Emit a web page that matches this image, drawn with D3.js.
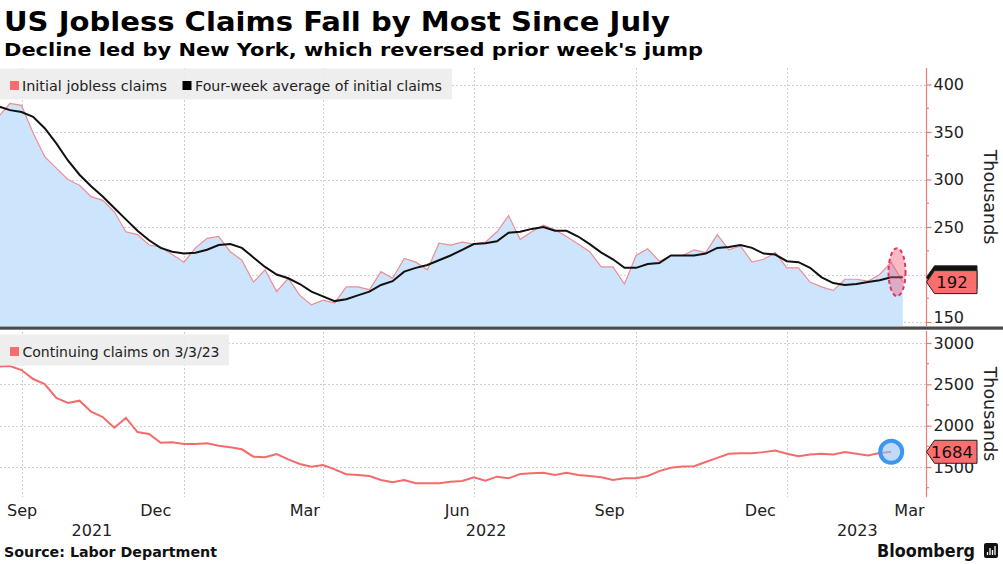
<!DOCTYPE html>
<html><head><meta charset="utf-8">
<script src="https://cdn.jsdelivr.net/npm/d3@7"></script>
<style>
body{margin:0;background:#fff;}
svg{display:block;}
text{font-family:"DejaVu Sans",sans-serif;}
</style>
</head><body>
<script>
// ---------- DATA ----------
const firstWeek = "2021-09-11"; // week ending, weekly data
const initialClaims = [366,380,378,349,324,312,300,294,282,278,
  266,245,242,231,229,221,213,228,238,240,
  224,215,192,205,182,196,178,168,173,170,
  187,187,184,203,196,217,213,205,233,231,
  234,232,234,245,262,237,245,252,247,240,
  232,224,208,208,190,220,227,214,220,220,
  226,223,242,226,230,213,216,223,207,207,
  192,187,183,195,195,193,200,213,192];
const fourWeekAvg = [377,373,371,366,354,338,320,305,293,282,
  270,258,246,236,228,224,222,223,226,231,
  232,228,218,208,200,196,190,182,177,172,
  174,178,182,189,193,203,207,210,215,220,
  226,232,233,235,244,245,248,250,246,246,
  240,232,223,216,207,207,211,212,220,220,
  220,222,228,229,231,228,222,221,214,213,
  207,197,191,189,190,192,194,197,197];
const continuingClaims = [2713,2722,2673,2564,2504,2335,2274,2302,2169,2105,
  1975,2093,1923,1899,1794,1799,1778,1778,1787,1758,
  1738,1714,1625,1617,1657,1593,1536,1504,1524,1472,
  1412,1403,1391,1343,1315,1343,1303,1303,1303,1322,
  1330,1375,1334,1383,1363,1415,1424,1431,1403,1431,
  1403,1391,1375,1343,1363,1363,1391,1450,1490,1505,
  1510,1560,1610,1660,1665,1665,1680,1700,1660,1630,
  1650,1660,1650,1680,1660,1640,1670,1684];
const topTicks = [150,200,250,300,350,400];
const bottomTicks = [1500,2000,2500,3000];
const monthLabelDates = ["2021-09-15","2021-12-15","2022-03-15","2022-06-15","2022-09-15","2022-12-15","2023-03-15"];
const monthLabels = ["Sep","Dec","Mar","Jun","Sep","Dec","Mar"];
const yearLabels = ["2021","2022","2023"];
const xDomain = ["2021-09-12","2023-03-25"];

// ---------- LAYOUT ----------
const W = 1003, H = 564;
const plotL = 0, plotR = 926;
const top1 = 68, bot1 = 326;
const top2 = 332, bot2 = 497;
const parse = d3.timeParse("%Y-%m-%d");
const start = parse(firstWeek);
const weeks = initialClaims.map((_, i) => d3.timeDay.offset(start, 7 * i));

const x = d3.scaleTime().domain(xDomain.map(parse)).range([plotL, plotR]);
const yTop = d3.scaleLinear().domain([150, 400]).range([322, 84.5]);
const yBot = d3.scaleLinear().domain([1500, 3000]).range([467, 343]);

const svg = d3.select("body").append("svg").attr("width", W).attr("height", H);
svg.append("rect").attr("width", W).attr("height", H).attr("fill", "#fff");

function fit(sel, w) { sel.attr("textLength", w).attr("lengthAdjust", "spacingAndGlyphs"); return sel; }

// titles
fit(svg.append("text").attr("x", 4).attr("y", 31).attr("font-size", 26).attr("font-weight", "bold")
  .attr("fill", "#000").text("US Jobless Claims Fall by Most Since July"), 666);
fit(svg.append("text").attr("x", 4).attr("y", 56).attr("font-size", 18).attr("font-weight", "bold")
  .attr("fill", "#000").text("Decline led by New York, which reversed prior week's jump"), 699);

const defs = svg.append("defs");
defs.append("clipPath").attr("id", "c1").append("rect").attr("x", plotL).attr("y", top1).attr("width", plotR - plotL).attr("height", bot1 - top1);
defs.append("clipPath").attr("id", "c2").append("rect").attr("x", plotL).attr("y", top2).attr("width", plotR - plotL).attr("height", bot2 - top2);

// vertical gridlines (quarter boundaries snapped to the weekly observation)
const qb = d3.timeMonth.every(3).range(x.domain()[0], x.domain()[1]).map(d => d3.timeSaturday.floor(d));
const gridStyle = g => g.attr("stroke", "#cfcfcf").attr("stroke-width", 1).attr("stroke-dasharray", "2,2");
[[top1, bot1], [top2, bot2]].forEach(([t, b]) => {
  svg.append("g").selectAll("line").data(qb).join("line")
    .attr("x1", d => Math.round(x(d)) + 0.5).attr("x2", d => Math.round(x(d)) + 0.5)
    .attr("y1", t).attr("y2", b).call(gridStyle);
});
// horizontal gridlines
svg.append("g").selectAll("line").data(topTicks).join("line")
  .attr("x1", plotL).attr("x2", plotR).attr("y1", d => Math.round(yTop(d)) + 0.5).attr("y2", d => Math.round(yTop(d)) + 0.5).call(gridStyle);
svg.append("g").selectAll("line").data(bottomTicks).join("line")
  .attr("x1", plotL).attr("x2", plotR).attr("y1", d => Math.round(yBot(d)) + 0.5).attr("y2", d => Math.round(yBot(d)) + 0.5).call(gridStyle);

// ---------- TOP PANEL ----------
const gTop = svg.append("g").attr("clip-path", "url(#c1)");
gTop.append("path").datum(initialClaims)
  .attr("d", d3.area().x((d, i) => x(weeks[i])).y0(bot1).y1(d => yTop(d)))
  .attr("fill", "#cce4fc");
gTop.append("path").datum(initialClaims)
  .attr("d", d3.line().x((d, i) => x(weeks[i])).y(d => yTop(d)))
  .attr("fill", "none").attr("stroke", "#ef8d95").attr("stroke-width", 1.2);
gTop.append("path").datum(fourWeekAvg)
  .attr("d", d3.line().x((d, i) => x(weeks[i])).y(d => yTop(d)))
  .attr("fill", "none").attr("stroke", "#111").attr("stroke-width", 2);

// highlight ellipse around last two weeks
const nI = initialClaims.length;
const ex = (x(weeks[nI - 1]) + x(weeks[nI - 2])) / 2;
const ey = (yTop(initialClaims[nI - 1]) + yTop(initialClaims[nI - 2])) / 2;
svg.append("ellipse").attr("cx", ex).attr("cy", ey).attr("rx", 8.5).attr("ry", 24)
  .attr("fill", "rgba(240,90,120,0.42)").attr("stroke", "#e5345f").attr("stroke-width", 2).attr("stroke-dasharray", "4,3");

// ---------- BOTTOM PANEL ----------
const gBot = svg.append("g").attr("clip-path", "url(#c2)");
gBot.append("path").datum(continuingClaims)
  .attr("d", d3.line().x((d, i) => x(weeks[i])).y(d => yBot(d)))
  .attr("fill", "none").attr("stroke", "#f46b6b").attr("stroke-width", 2);
const nC = continuingClaims.length;
svg.append("circle").attr("cx", x(weeks[nC - 1])).attr("cy", yBot(continuingClaims[nC - 1])).attr("r", 11)
  .attr("fill", "rgba(150,195,245,0.6)").attr("stroke", "#3b98ee").attr("stroke-width", 4);

// legends
function legend(yBox, w, items) {
  svg.append("rect").attr("x", 0).attr("y", yBox).attr("width", w).attr("height", 31).attr("fill", "rgba(236,236,236,0.9)");
  items.forEach(it => {
    svg.append("rect").attr("x", it.sx).attr("y", yBox + 12.5).attr("width", 9).attr("height", 9).attr("fill", it.color);
    fit(svg.append("text").attr("x", it.tx).attr("y", yBox + 22.5).attr("font-size", 14.5).attr("fill", "#222").text(it.label), it.w);
  });
}
legend(68.5, 452, [
  {sx: 10, tx: 22, w: 145, color: "#f76d6d", label: "Initial jobless claims"},
  {sx: 182.5, tx: 195, w: 247, color: "#000", label: "Four-week average of initial claims"}
]);
legend(334.5, 229, [
  {sx: 10, tx: 22.5, w: 197, color: "#f76d6d", label: "Continuing claims on 3/3/23"}
]);

// separator
svg.append("rect").attr("x", 0).attr("y", 326.5).attr("width", W).attr("height", 3.2).attr("fill", "#4a4a4a");

// ---------- RIGHT AXES ----------
const axisColor = "#f07a7a";
function rightAxis(scale, ticks, t, b, tagYs) {
  svg.append("line").attr("x1", plotR + 0.5).attr("x2", plotR + 0.5).attr("y1", t).attr("y2", b)
    .attr("stroke", axisColor).attr("stroke-width", 1.2);
  const g = svg.append("g").attr("transform", `translate(${plotR + 0.5},0)`)
    .call(d3.axisRight(scale).tickValues(ticks).tickSize(5).tickPadding(2).tickFormat(d3.format("d")));
  g.select(".domain").remove();
  g.selectAll(".tick line").attr("stroke", axisColor).attr("stroke-width", 1.2);
  g.selectAll(".tick text").attr("fill", "#222").attr("font-size", 16).attr("font-family", "DejaVu Sans")
    .attr("dy", function(d) { const yy = scale(d); return (yy + 9 > b ? (b - 9 - yy) / 16 + 0.32 : 0.32) + "em"; });
  // labels hidden behind a value tag are not drawn (as in the reference)
  g.selectAll(".tick text").filter(d => tagYs.some(ty => Math.abs(scale(d) - ty) < 12)).remove();
  const step = ticks[1] - ticks[0];
  const minor = d3.range(ticks[0] - step / 2, ticks[ticks.length - 1], step).filter(v => scale(v) > t && scale(v) < b);
  svg.append("g").selectAll("line").data(minor).join("line")
    .attr("x1", plotR).attr("x2", plotR + 3).attr("y1", d => scale(d)).attr("y2", d => scale(d))
    .attr("stroke", axisColor).attr("stroke-width", 1.2);
  svg.append("text").attr("transform", `translate(${984},${(t + b) / 2}) rotate(90)`)
    .attr("text-anchor", "middle").attr("font-size", 17.5).attr("fill", "#222").text("Thousands");
}
const tagTopAvg = yTop(fourWeekAvg[nI - 1]);
const tagTopIni = yTop(initialClaims[nI - 1]);
const tagBot = yBot(continuingClaims[nC - 1]);
rightAxis(yTop, topTicks, top1, bot1, [tagTopAvg, tagTopIni]);
rightAxis(yBot, bottomTicks, top2 - 1, bot2, [tagBot]);

// value tags
function tag(yc, fill, label) {
  const h = 11.5, x0 = plotR + 0.5;
  svg.append("path").attr("d", `M${x0},${yc} L${x0 + 8},${yc - h} L${977},${yc - h} L${977},${yc + h} L${x0 + 8},${yc + h} Z`)
    .attr("fill", fill).attr("stroke", "#222").attr("stroke-width", 1);
  if (label) svg.append("text").attr("x", 952).attr("y", yc).attr("dy", "0.36em").attr("text-anchor", "middle")
    .attr("font-size", 16.5).attr("fill", "#111").text(label);
}
tag(tagTopAvg, "#111", null);
tag(tagTopIni, "#fa6e6e", d3.format("d")(initialClaims[nI - 1]));
tag(tagBot, "#fa6e6e", d3.format("d")(continuingClaims[nC - 1]));

// ---------- X AXIS LABELS ----------
monthLabelDates.forEach((ds, i) => {
  const t = svg.append("text").attr("x", x(parse(ds))).attr("y", 516).attr("text-anchor", "middle")
    .attr("font-size", 16).attr("fill", "#222").text(monthLabels[i]);
  const bb = t.node().getBBox();
  if (bb.x < 7) t.attr("x", x(parse(ds)) + (7 - bb.x));
  if (bb.x + bb.width > plotR) t.attr("x", x(parse(ds)) - (bb.x + bb.width - plotR));
});
yearLabels.forEach(yl => {
  const y0 = d3.max([d3.timeParse("%Y")(yl), x.domain()[0]]);
  const y1 = d3.min([d3.timeYear.offset(d3.timeParse("%Y")(yl), 1), x.domain()[1]]);
  svg.append("text").attr("x", (x(y0) + x(y1)) / 2).attr("y", 536).attr("text-anchor", "middle")
    .attr("font-size", 16).attr("fill", "#222").text(yl);
});

// ---------- FOOTER ----------
fit(svg.append("text").attr("x", 4).attr("y", 557).attr("font-size", 14).attr("font-weight", "bold")
  .attr("fill", "#111").text("Source: Labor Department"), 213);
fit(svg.append("text").attr("x", 877).attr("y", 557).attr("font-size", 17).attr("font-weight", "bold")
  .attr("fill", "#111").text("Bloomberg"), 98);
svg.append("rect").attr("x", 984).attr("y", 543).attr("width", 14).attr("height", 15).attr("rx", 2).attr("fill", "#111");
[[987.5, 552, 555], [990, 548, 555], [992.5, 550, 555], [995, 546, 555]].forEach(([bx, y1, y2]) =>
  svg.append("line").attr("x1", bx).attr("x2", bx).attr("y1", y1).attr("y2", y2).attr("stroke", "#fff").attr("stroke-width", 1.3));
</script>
</body></html>
